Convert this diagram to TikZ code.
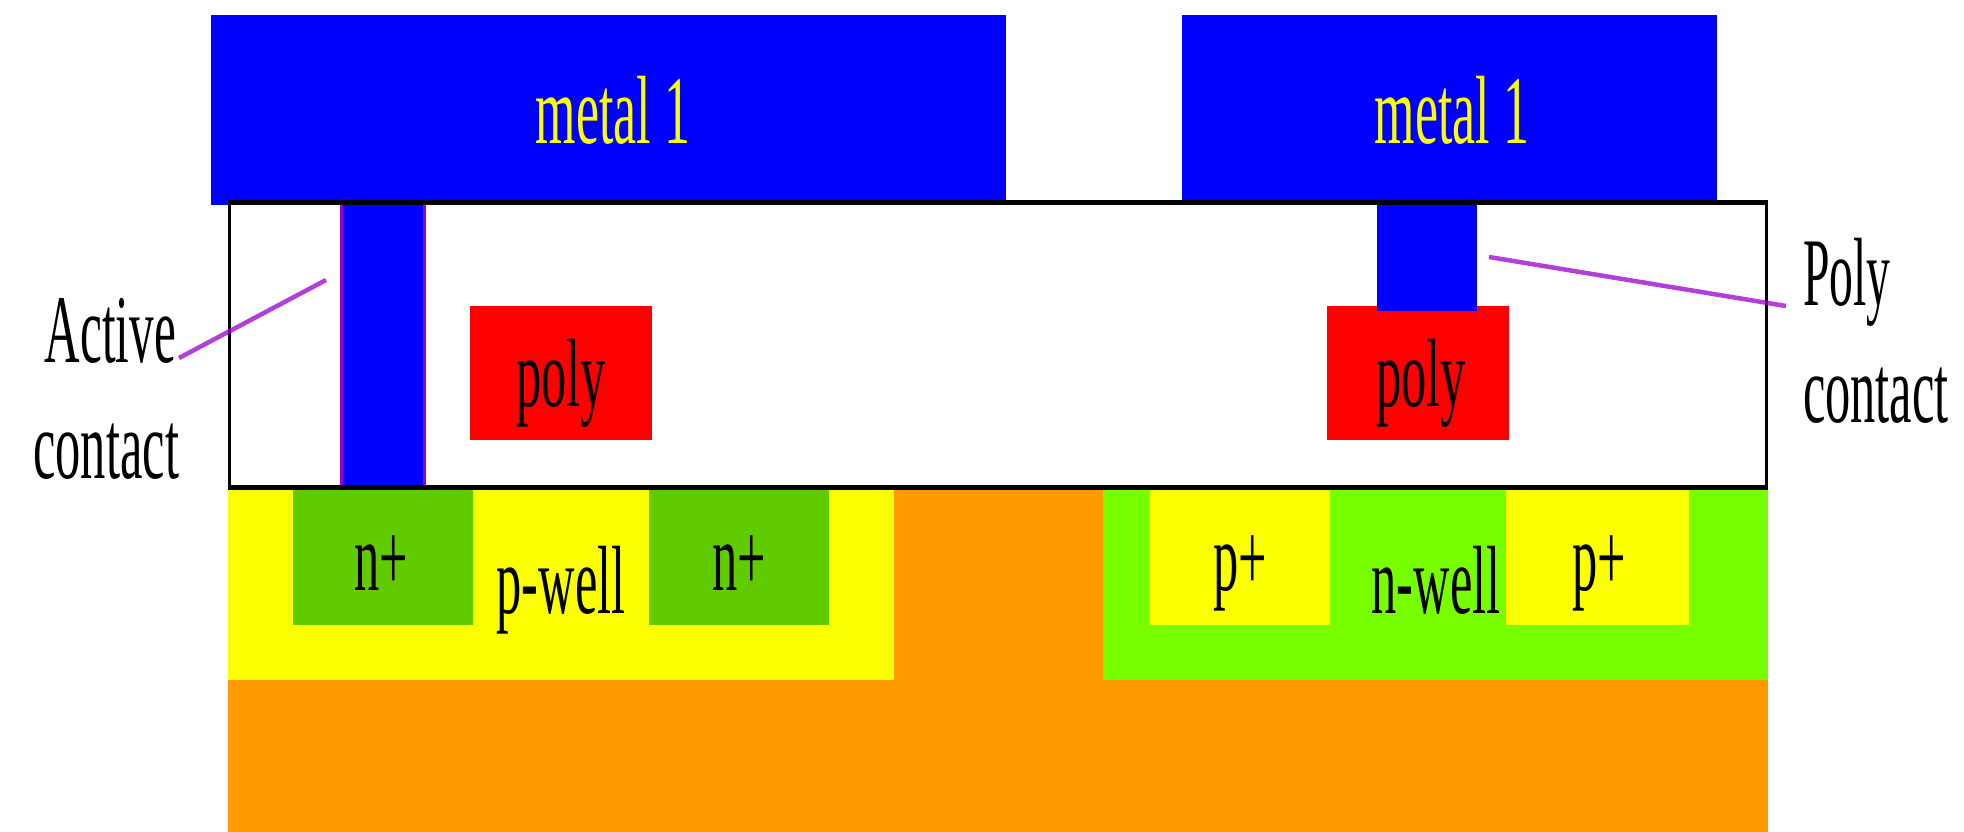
\documentclass[tikz,border=0pt]{standalone}
\usepackage{fontspec}
\setmainfont{Liberation Serif}
\definecolor{cBlue}{HTML}{0000FF}
\definecolor{cRed}{HTML}{FF0000}
\definecolor{cYel}{HTML}{FCFF00}
\definecolor{cOrg}{HTML}{FF9A00}
\definecolor{cLime}{HTML}{77FF00}
\definecolor{cDark}{HTML}{60CC00}
\definecolor{cPur}{HTML}{9900CC}
\tikzset{
  px/.style={x=1pt,y=-1pt},
  blockbox/.style={anchor=north west,inner sep=0pt,outer sep=0pt,draw=none},
  lbl/.style={anchor=base,inner sep=0pt,outer sep=0pt,font=\fontsize{97}{116}\selectfont,xscale=0.52,transform shape,text=black},
  leader/.style={draw=cPur,line width=4.5pt,opacity=0.75},
}
\newcommand{\blk}[6]{\node[blockbox,fill=#1,minimum width=#4pt-#2pt,minimum height=#5pt-#3pt] (#6) at (#2,#3) {};}
\begin{document}
\begin{tikzpicture}[px]
\useasboundingbox (0,0) rectangle (1964,832);
% substrate and wells
\blk{cOrg}{228}{490}{1768}{832}{substrate}
\blk{cYel}{228}{490}{894}{680}{pwell}
\blk{cLime}{1103}{490}{1768}{680}{nwell}
\blk{cDark}{293}{490}{473}{625}{nplusA}
\blk{cDark}{649}{490}{829}{625}{nplusB}
\blk{cYel}{1150}{490}{1330}{625}{pplusA}
\blk{cYel}{1506}{490}{1689}{625}{pplusB}
% metal
\blk{cBlue}{211}{15}{1006}{205}{metalA}
\blk{cBlue}{1182}{15}{1717}{201}{metalB}
% oxide frame
\blk{black}{228}{200}{1768}{490}{frameOuter}
\blk{white}{231}{205}{1765}{485}{frameInner}
% poly and contacts
\blk{cRed}{470}{306}{652}{440}{polyA}
\blk{cRed}{1327}{306}{1509}{440}{polyB}
\blk{cPur}{340}{205}{426}{485}{viaEdge}
\blk{cBlue}{343}{205}{423}{485}{viaA}
\blk{cBlue}{1377}{205}{1477}{311}{viaB}
% labels
\node[lbl,text=cYel,xscale=1.03] (tMetalA) at (613,143) {metal 1};
\node[lbl,text=cYel,xscale=1.03] (tMetalB) at (1452,143) {metal 1};
\node[lbl] (tPolyA) at (561,406) {poly};
\node[lbl] (tPolyB) at (1421,406) {poly};
\node[lbl] (tNa) at (381,590) {n+};
\node[lbl] (tNb) at (739,590) {n+};
\node[lbl] (tPw) at (561,613) {p-well};
\node[lbl] (tPa) at (1240,590) {p+};
\node[lbl] (tPb) at (1599,590) {p+};
\node[lbl] (tNw) at (1436,613) {n-well};
\node[lbl,xscale=0.975,anchor=base east] (tActive) at (176,362) {Active};
\node[lbl,anchor=base east] (tActiveB) at (179,478) {contact};
\node[lbl,xscale=0.945,anchor=base west] (tPolyC) at (1803,305) {Poly};
\node[lbl,anchor=base west] (tPolyD) at (1803,422) {contact};
% leaders
\coordinate (aStart) at (179,358);
\coordinate (aEnd) at (326,280);
\coordinate (bStart) at (1489,257);
\coordinate (bEnd) at (1786,306);
\draw[leader] (aStart) -- (aEnd);
\draw[leader] (bStart) -- (bEnd);
\end{tikzpicture}
\end{document}
